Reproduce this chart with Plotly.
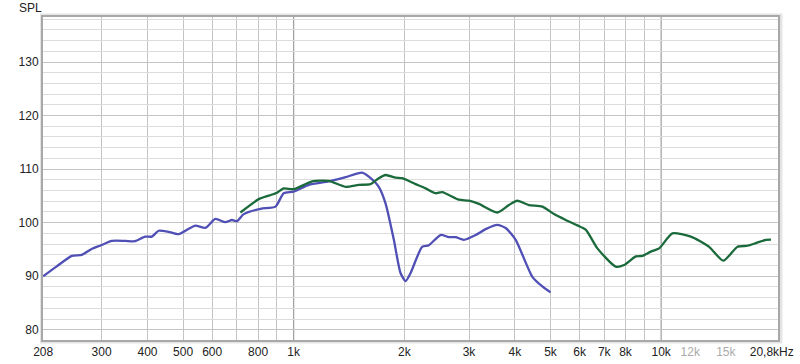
import plotly.graph_objects as go
import numpy as np

# Blue curve (Hz, dB)
blue_f = [208, 226, 249, 265, 282, 297, 320, 348, 370, 394, 411, 429, 456, 486, 518, 540, 575,
          612, 651, 679, 701, 731, 812, 892, 939, 1000, 1099, 1245, 1383, 1535, 1601, 1704, 1778,
          1873, 1953, 2016, 2080, 2236, 2333, 2509, 2644, 2758, 2905, 3127, 3330, 3581, 3775,
          4019, 4461, 4750, 5000]
blue_db = [90.0, 91.8, 93.8, 94.0, 95.1, 95.7, 96.6, 96.6, 96.55, 97.4, 97.4, 98.5, 98.3, 97.85,
           98.85, 99.46, 99.03, 100.7, 100.1, 100.5, 100.3, 101.6, 102.6, 103.0, 105.5, 105.8,
           107.05, 107.7, 108.5, 109.35, 108.6, 106.7, 103.6, 96.8, 90.6, 89.1, 90.6, 95.5, 95.8,
           97.7, 97.3, 97.3, 96.8, 97.7, 98.8, 99.6, 99.0, 96.8, 89.9, 88.1, 87.0]

# Green curve (Hz, dB)
green_f = [716, 803, 855, 901, 939, 1000, 1122, 1245, 1383, 1503, 1618, 1704, 1778, 1893, 1973,
           2146, 2285, 2433, 2536, 2816, 3000, 3192, 3581, 3853, 4059, 4368, 4750, 5111, 5500,
           5914, 6234, 6707, 7526, 7928, 8533, 8896, 9374, 9876, 10730, 12050, 13510, 14760,
           16140, 17190, 18120, 19290, 19910]
green_db = [101.9, 104.4, 105.05, 105.6, 106.4, 106.25, 107.7, 107.8, 106.7, 107.05, 107.2, 108.3,
            108.9, 108.4, 108.3, 107.2, 106.4, 105.5, 105.7, 104.3, 104.1, 103.5, 101.9, 103.3,
            104.1, 103.3, 103.0, 101.6, 100.5, 99.5, 98.7, 95.2, 91.8, 92.1, 93.7, 93.8, 94.6,
            95.2, 98.0, 97.4, 95.5, 92.9, 95.5, 95.7, 96.2, 96.8, 96.85]

# Axis ticks
x_tick_vals = [208, 300, 400, 500, 600, 700, 800, 900, 1000, 2000, 3000, 4000, 5000, 6000, 7000,
               8000, 9000, 10000]
x_tick_text = ["208", "300", "400", "500", "600", "", "800", "", "1k", "2k", "3k", "4k", "5k", "6k",
               "7k", "8k", "", "10k"]
x_grid_vals = [300, 400, 500, 600, 700, 800, 900, 2000, 3000, 4000, 5000, 6000, 7000, 8000, 9000]
x_hi_vals = [11000, 12000, 13000, 14000, 15000, 16000, 17000, 18000, 19000, 20000]
x_hi_text = ["", "<span style='color:#aaaaaa'>12k</span>", "", "",
             "<span style='color:#aaaaaa'>15k</span>", "", "", "", "", "20,8kHz"]
y_tick_vals = [80, 90, 100, 110, 120, 130]
dark_lines = [1000, 10000]

x_range = [np.log10(207.8), np.log10(20800)]
y_range = [78.1, 138.4]

fig = go.Figure()
fig.add_trace(go.Scatter(x=blue_f, y=blue_db, mode="lines",
                         line=dict(color="#4f4fb5", width=2.3, shape="spline", smoothing=0.6),
                         showlegend=False, hoverinfo="skip"))
fig.add_trace(go.Scatter(x=green_f, y=green_db, mode="lines",
                         line=dict(color="#1b6a3c", width=2.3, shape="spline", smoothing=0.6),
                         showlegend=False, hoverinfo="skip"))

font = dict(family="Liberation Sans, Arial, sans-serif", size=12, color="#222222")

fig.update_layout(
    width=800, height=364,
    margin=dict(l=43, r=22, t=17, b=24),
    paper_bgcolor="white", plot_bgcolor="white",
    font=font,
    xaxis=dict(type="log", range=x_range, tickmode="array",
               tickvals=x_tick_vals + x_hi_vals, ticktext=x_tick_text + x_hi_text,
               showgrid=False, zeroline=False, ticks="", automargin=False,
               showline=True, linecolor="#a8a8a8", linewidth=2, mirror=True,
               tickfont=font,
               minor=dict(tickmode="array", tickvals=x_grid_vals, showgrid=True,
                          gridcolor="#c4c4c4", gridwidth=1, ticks="")),
    xaxis2=dict(type="log", range=x_range, overlaying="x", tickmode="array",
                tickvals=x_hi_vals, showticklabels=False, showgrid=True, automargin=False,
                gridcolor="#dedede", gridwidth=1, zeroline=False, ticks="", layer="below traces"),
    yaxis=dict(range=y_range, tickmode="array", tickvals=y_tick_vals,
               showgrid=True, gridcolor="#c4c4c4", gridwidth=1, zeroline=False, ticks="",
               showline=True, linecolor="#a8a8a8", linewidth=2, mirror=True,
               tickfont=font, automargin=False,
               minor=dict(tickmode="linear", dtick=2, tick0=0, showgrid=True,
                          gridcolor="#dcdcdc", gridwidth=1, ticks="")),
)

# dark decade lines
for v in dark_lines:
    fig.add_shape(type="line", xref="x", yref="paper", x0=v, x1=v, y0=0, y1=1,
                  line=dict(color="#8a8a8a", width=1), layer="below")

# soft shadow round the frame
fig.add_shape(type="rect", xref="paper", yref="paper", x0=-0.002, x1=1.004, y0=-0.006, y1=1.006,
              line=dict(color="#e4e4e4", width=3), layer="below")

fig.add_annotation(text="SPL", xref="paper", yref="paper", x=-0.035, y=1.0, yshift=9,
                   xanchor="left", yanchor="middle", showarrow=False, font=font)

fig.write_html("out.html", config={"displayModeBar": False},
               post_script="document.body.style.margin='0';")
